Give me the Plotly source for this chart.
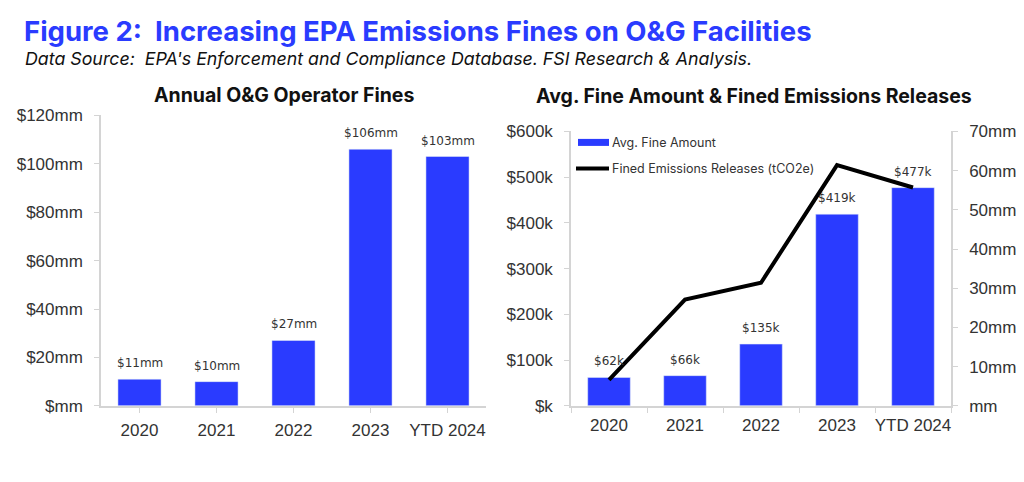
import plotly.graph_objects as go

W, H = 1024, 482

categories = ["2020", "2021", "2022", "2023", "YTD 2024"]
annual_fines_mm = [11, 10, 27, 106, 103]
avg_fine_k = [62, 66, 135, 419, 477]
emissions_mm = [6.6, 27.1, 31.4, 61.4, 55.7]

left_tickvals = [0, 20, 40, 60, 80, 100, 120]
left_ticktext = ["$mm", "$20mm", "$40mm", "$60mm", "$80mm", "$100mm", "$120mm"]
right_tickvals = [0, 100, 200, 300, 400, 500, 600]
right_ticktext = ["$k", "$100k", "$200k", "$300k", "$400k", "$500k", "$600k"]
y2_tickvals = [0, 10, 20, 30, 40, 50, 60, 70]
y2_ticktext = ["mm", "10mm", "20mm", "30mm", "40mm", "50mm", "60mm", "70mm"]

BAR_NAME = "Avg. Fine Amount"
LINE_NAME = "Fined Emissions Releases (tCO2e)"

BLUE = "#2A3BFF"
AXIS = "#d4d4d4"
TXT = "#333333"
ARIAL = "Liberation Sans, Arial"


def px(x):
    return (x - 7) / W


def py(y):
    return (H - (y - 17.8) / 0.959) / H


fig = go.Figure()

fig.add_trace(go.Bar(
    x=categories, y=annual_fines_mm, marker_color=BLUE, width=0.56,
    showlegend=False, xaxis="x", yaxis="y",
))

fig.add_trace(go.Bar(
    x=categories, y=avg_fine_k, marker_color=BLUE, width=0.56,
    name=BAR_NAME, showlegend=False,
    xaxis="x2", yaxis="y2",
))

fig.add_trace(go.Scatter(
    x=categories, y=emissions_mm, mode="lines",
    line=dict(color="black", width=4),
    name=LINE_NAME, showlegend=False,
    xaxis="x2", yaxis="y3",
))

annotations = [
    dict(text="<b>Figure 2:  Increasing EPA Emissions Fines on O&G Facilities</b>", x=px(21), y=py(31.5),
         xref="paper", yref="paper", xanchor="left", yanchor="middle", showarrow=False,
         font=dict(family="Inter", size=27.5, color=BLUE)),
    dict(text="<i>Data Source:  EPA's Enforcement and Compliance Database. FSI Research & Analysis.</i>",
         x=px(22), y=py(59), xref="paper", yref="paper", xanchor="left", yanchor="middle",
         showarrow=False, font=dict(family="Inter", size=17.8, color="#111111")),
    dict(text="<b>Annual O&G Operator Fines</b>", x=px(283), y=py(96), xref="paper", yref="paper",
         xanchor="center", yanchor="middle", showarrow=False,
         font=dict(family="Inter", size=19.5, color="#111111")),
    dict(text="<b>Avg. Fine Amount & Fined Emissions Releases</b>", x=px(753), y=py(97), xref="paper",
         yref="paper", xanchor="center", yanchor="middle", showarrow=False,
         font=dict(family="Inter", size=19.5, color="#111111")),
    # legend texts
    dict(text=BAR_NAME, x=px(609), y=py(143), xref="paper", yref="paper", xanchor="left",
         yanchor="middle", showarrow=False, font=dict(family="Inter", size=12.5, color=TXT)),
    dict(text=LINE_NAME, x=px(609), y=py(169), xref="paper", yref="paper", xanchor="left",
         yanchor="middle", showarrow=False, font=dict(family="Inter", size=12.5, color=TXT)),
]
# category axes: annotation x given as the category index
for i, v in enumerate(annual_fines_mm):
    annotations.append(dict(text=f"${v}mm", x=i, y=v, xref="x", yref="y", yanchor="middle",
                            yshift=16, showarrow=False, font=dict(family="DejaVu Sans", size=12, color=TXT)))
for i, v in enumerate(avg_fine_k):
    annotations.append(dict(text=f"${v}k", x=i, y=v, xref="x2", yref="y2", yanchor="middle",
                            yshift=16, showarrow=False, font=dict(family="DejaVu Sans", size=12, color=TXT)))

shapes = [
    dict(type="rect", xref="paper", yref="paper", x0=px(577), x1=px(608), y0=py(146.5), y1=py(139.5),
         fillcolor=BLUE, line=dict(width=0)),
    dict(type="line", xref="paper", yref="paper", x0=px(575), x1=px(608), y0=py(169), y1=py(169),
         line=dict(color="black", width=4)),
]

tickfont = dict(family=ARIAL, size=17, color=TXT)
common_y = dict(showline=True, linecolor=AXIS, linewidth=1.5, ticks="outside", tickcolor=AXIS, ticklen=5,
                tickfont=tickfont, showgrid=False, zeroline=False, ticklabelstandoff=8)
common_x = dict(type="category", categoryorder="array", categoryarray=categories,
                range=[-0.5, len(categories) - 0.5],
                showline=True, linecolor=AXIS, linewidth=1.5, ticks="outside", tickcolor=AXIS, ticklen=5,
                tickfont=tickfont, showgrid=False, tickangle=0, ticklabelstandoff=3)

fig.update_layout(
    width=W, height=H,
    margin=dict(l=0, r=0, t=0, b=0),
    paper_bgcolor="white", plot_bgcolor="white",
    showlegend=False,
    xaxis=dict(domain=[px(100), px(485)], anchor="y", **common_x),
    yaxis=dict(domain=[py(406), py(116)], anchor="x", range=[0, 120], tickvals=left_tickvals,
               ticktext=left_ticktext, **common_y),
    xaxis2=dict(domain=[px(570), px(950)], anchor="y2", tickson="boundaries", **common_x),
    yaxis2=dict(domain=[py(406), py(132)], anchor="x2", range=[0, 600], tickvals=right_tickvals,
                ticktext=right_ticktext, **common_y),
    yaxis3=dict(overlaying="y2", side="right", anchor="x2", range=[0, 70], tickvals=y2_tickvals,
                ticktext=y2_ticktext, **common_y),
    annotations=annotations,
    shapes=shapes,
)

fig.write_html("out.html")
